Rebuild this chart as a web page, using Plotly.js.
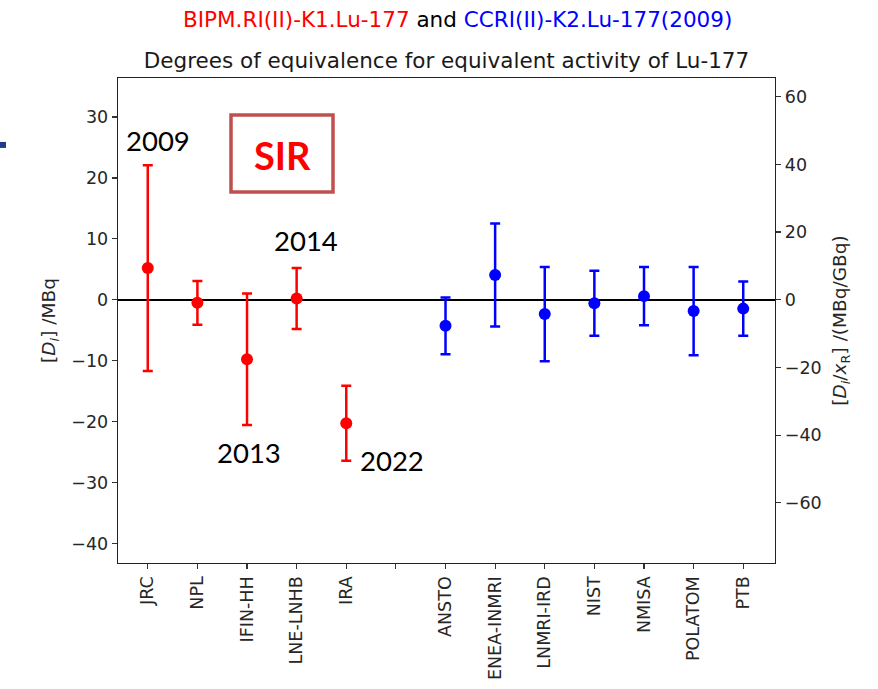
<!DOCTYPE html>
<html>
<head>
<meta charset="utf-8">
<script src="https://cdn.plot.ly/plotly-3.0.1.min.js"></script>
<style>html,body{margin:0;padding:0;background:#fff;}#chart{width:878px;height:689px;}</style>
</head>
<body>
<div id="chart"></div>
<script>
// Category slots along the x axis ('' = empty gap slot)
const categories = ['JRC','NPL','IFIN-HH','LNE-LNHB','IRA','','ANSTO','ENEA-INMRI','LNMRI-IRD','NIST','NMISA','POLATOM','PTB'];

// BIPM.RI(II)-K1.Lu-177 (SIR) results, MBq
const sirLabs = ['JRC','NPL','IFIN-HH','LNE-LNHB','IRA'];
const sirDi   = [5.2, -0.5, -9.75, 0.2, -20.25];
const sirU    = [16.9, 3.6, 10.8, 5.0, 6.15];
const sirYears = ['2009','','2013','2014','2022'];

// CCRI(II)-K2.Lu-177(2009) results, MBq
const k2Labs = ['ANSTO','ENEA-INMRI','LNMRI-IRD','NIST','NMISA','POLATOM','PTB'];
const k2Di   = [-4.27, 4.05, -2.35, -0.57, 0.6, -1.85, -1.45];
const k2U    = [4.65, 8.45, 7.75, 5.33, 4.78, 7.25, 4.45];

// Axis settings
const leftRange = [-43.2, 36.4];
const ratio = 1.8;          // (MBq/GBq) per MBq for the right axis
const rightTicks = [-60, -40, -20, 0, 20, 40, 60];
const leftTicks = [-40, -30, -20, -10, 0, 10, 20, 30];

const idx = labs => labs.map(l => categories.indexOf(l));

const red = '#ff0000', blue = '#0000ff';
const tickFont = {family: 'DejaVu Sans', size: 17.5, color: '#262626'};
const yearFont = {family: 'Lato', size: 27.5, color: '#000'};

const traces = [
  {
    x: idx(sirLabs), y: sirDi, type: 'scatter', mode: 'markers',
    marker: {color: red, size: 12},
    error_y: {type: 'data', array: sirU, visible: true, color: red, thickness: 2.5, width: 5},
    hoverinfo: 'x+y', showlegend: false
  },
  {
    x: idx(k2Labs), y: k2Di, type: 'scatter', mode: 'markers',
    marker: {color: blue, size: 12},
    error_y: {type: 'data', array: k2U, visible: true, color: blue, thickness: 2.5, width: 5},
    hoverinfo: 'x+y', showlegend: false
  },
  {
    x: [0], y: [0], yaxis: 'y2', type: 'scatter', mode: 'markers',
    marker: {opacity: 0}, hoverinfo: 'skip', showlegend: false
  }
];

const annotations = [
  {
    xref: 'paper', yref: 'paper', x: (457 - 118) / 657, y: (563.5 - 19) / 485.5, xanchor: 'center', yanchor: 'middle',
    showarrow: false,
    text: "<span style='color:#ff0000'>BIPM.RI(II)-K1.Lu-177</span> and <span style='color:#0000ff'>CCRI(II)-K2.Lu-177(2009)</span>",
    font: {family: 'DejaVu Sans', size: 21.5, color: '#000'}
  },
  {
    xref: 'x', yref: 'y', x: 0.2, y: 26.1, showarrow: false, xanchor: 'center', yanchor: 'middle',
    text: sirYears[0], font: yearFont
  },
  {
    xref: 'x', yref: 'y', x: 2.03, y: -25.1, showarrow: false, xanchor: 'center', yanchor: 'middle',
    text: sirYears[2], font: yearFont
  },
  {
    xref: 'x', yref: 'y', x: 3.18, y: 9.7, showarrow: false, xanchor: 'center', yanchor: 'middle',
    text: sirYears[3], font: yearFont
  },
  {
    xref: 'x', yref: 'y', x: 4.93, y: -26.3, showarrow: false, xanchor: 'center', yanchor: 'middle',
    text: sirYears[4], font: yearFont
  },
  {
    xref: 'paper', yref: 'paper', x: (282 - 118) / 657, y: (563.5 - 155) / 485.5,
    showarrow: false, xanchor: 'center', yanchor: 'middle',
    text: '<b>SIR</b>', font: {family: 'Lato', size: 38, color: '#ff0000'}
  }
];

const layout = {
  width: 878, height: 689,
  margin: {l: 118, r: 103, t: 78, b: 125.5},
  paper_bgcolor: '#fff', plot_bgcolor: '#fff',
  title: {
    text: 'Degrees of equivalence for equivalent activity of Lu-177',
    font: {family: 'DejaVu Sans', size: 21.5, color: '#1a1a1a'},
    x: 0.5, xref: 'paper', xanchor: 'center',
    y: 1 - 60/689, yref: 'container', yanchor: 'middle'
  },
  xaxis: {
    range: [-0.6, 12.64], tickmode: 'array',
    tickvals: categories.map((c, i) => i), ticktext: categories,
    tickangle: -90, tickfont: tickFont,
    ticks: 'outside', ticklen: 5, tickwidth: 1.2, tickcolor: '#333',
    showgrid: false, zeroline: false,
    showline: true, linecolor: '#222', linewidth: 1.3, mirror: true
  },
  yaxis: {
    range: leftRange, tickmode: 'array', tickvals: leftTicks,
    tickfont: tickFont,
    ticks: 'outside', ticklen: 5, tickwidth: 1.2, tickcolor: '#333',
    showgrid: false, zeroline: true, zerolinecolor: '#000', zerolinewidth: 1.5,
    showline: true, linecolor: '#222', linewidth: 1.3, mirror: false,
    title: {text: '[<i>D<sub>i</sub></i>] /MBq', font: {family: 'DejaVu Sans', size: 18.5, color: '#262626'}, standoff: 10}
  },
  yaxis2: {
    overlaying: 'y', side: 'right', anchor: 'x',
    range: [leftRange[0] * ratio, leftRange[1] * ratio],
    tickmode: 'array', tickvals: rightTicks,
    tickfont: tickFont,
    ticks: 'outside', ticklen: 5, tickwidth: 1.2, tickcolor: '#333',
    showgrid: false, zeroline: false,
    showline: true, linecolor: '#222', linewidth: 1.3,
    title: {text: '[<i>D<sub>i</sub></i>/<i>x</i><sub>R</sub>] /(MBq/GBq)', font: {family: 'DejaVu Sans', size: 18.5, color: '#262626'}, standoff: 12}
  },
  shapes: [
    {
      type: 'rect', xref: 'paper', yref: 'paper',
      x0: (231 - 118) / 657, x1: (333 - 118) / 657,
      y0: (563.5 - 192) / 485.5, y1: (563.5 - 115) / 485.5,
      line: {color: '#c0504d', width: 3.5}, fillcolor: 'rgba(0,0,0,0)'
    },
    {
      type: 'line', xref: 'paper', yref: 'paper',
      x0: -118 / 657, x1: (6 - 118) / 657,
      y0: (563.5 - 145) / 485.5, y1: (563.5 - 145) / 485.5,
      line: {color: '#1f3b8c', width: 6}
    }
  ],
  annotations: annotations,
  showlegend: false
};

Plotly.newPlot('chart', traces, layout, {displayModeBar: false, staticPlot: true});
</script>
</body>
</html>
